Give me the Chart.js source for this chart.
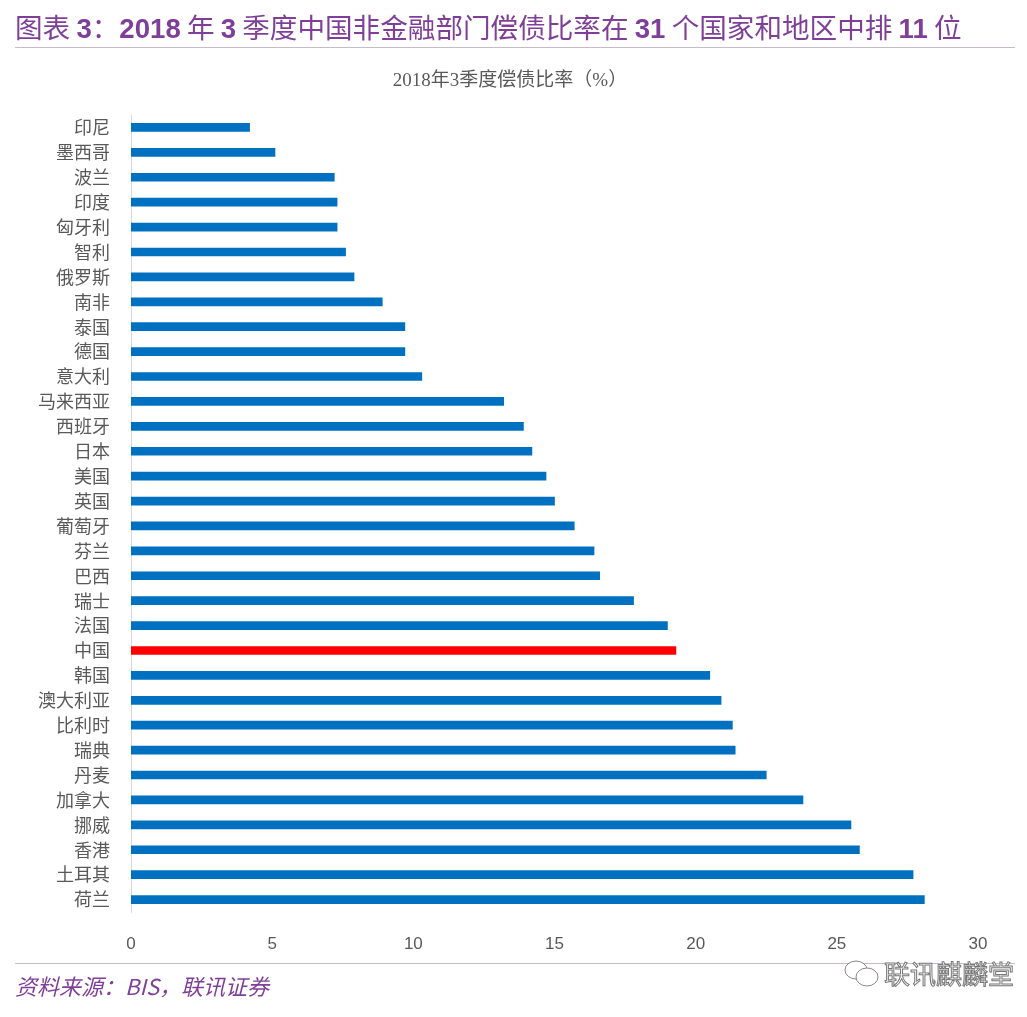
<!DOCTYPE html>
<html>
<head>
<meta charset="utf-8">
<script src="https://cdn.jsdelivr.net/npm/chart.js@4"></script>
<style>
  html, body { margin: 0; padding: 0; background: #fff; }
  #page { position: relative; width: 1027px; height: 1017px; overflow: hidden; font-family: "Noto Sans CJK SC", sans-serif; }
  #chart { position: absolute; left: 0; top: 0; }
  .rule { position: absolute; left: 15px; width: 1000px; height: 1px; background: #c4bcc8; }
  #head { position: absolute; left: 15px; top: 6px; font-size: 27.6px; line-height: 40px; color: #7f3f98; white-space: nowrap; }
  #head b { font-family: "Liberation Sans", sans-serif; font-weight: bold; }
  #source { position: absolute; left: 15px; top: 968px; font-size: 22px; line-height: 34px; color: #7f3f98; font-style: italic; white-space: nowrap; }
  #mark { position: absolute; left: 884px; top: 958px; font-size: 26px; line-height: 30px; color: #fff; white-space: nowrap; -webkit-text-stroke: 1px #777; }
  #icon { position: absolute; left: 840px; top: 956px; }
</style>
</head>
<body>
<div id="page">
  <canvas id="chart" width="1027" height="1017"></canvas>
  <div id="head">图表 <b>3</b>：<b>2018</b> 年 <b>3</b> 季度中国非金融部门偿债比率在 <b>31</b> 个国家和地区中排 <b>11</b> 位</div>
  <div class="rule" style="top:47px"></div>
  <div class="rule" style="top:963px"></div>
  <div id="source">资料来源：BIS，联讯证券</div>
  <svg id="icon" width="42" height="36" viewBox="0 0 42 36">
    <ellipse cx="16" cy="14" rx="11" ry="9" fill="#fff" stroke="#888"/>
    <ellipse cx="27" cy="21" rx="11" ry="9" fill="#fff" stroke="#888"/>
  </svg>
  <div id="mark">联讯麒麟堂</div>
</div>
<script>
const categories = ["印尼","墨西哥","波兰","印度","匈牙利","智利","俄罗斯","南非","泰国","德国","意大利","马来西亚","西班牙","日本","美国","英国","葡萄牙","芬兰","巴西","瑞士","法国","中国","韩国","澳大利亚","比利时","瑞典","丹麦","加拿大","挪威","香港","土耳其","荷兰"];
const ratios = [4.2,5.1,7.2,7.3,7.3,7.6,7.9,8.9,9.7,9.7,10.3,13.2,13.9,14.2,14.7,15.0,15.7,16.4,16.6,17.8,19.0,19.3,20.5,20.9,21.3,21.4,22.5,23.8,25.5,25.8,27.7,28.1];
const highlighted = "中国";
const xTicks = [0,5,10,15,20,25,30];

const blue = "#0070c0";
const red = "#ff0000";

new Chart(document.getElementById("chart"), {
  type: "bar",
  data: {
    labels: categories,
    datasets: [{
      data: ratios,
      backgroundColor: categories.map(c => c === highlighted ? red : blue),
      barThickness: 8,
      borderWidth: 0
    }]
  },
  options: {
    indexAxis: "y",
    responsive: false,
    animation: false,
    layout: { padding: { top: 115, right: 49, bottom: 0, left: 0 } },
    plugins: { legend: { display: false }, tooltip: { enabled: false } },
    scales: {
      x: {
        min: 0,
        max: 30,
        afterBuildTicks: axis => { axis.ticks = xTicks.map(value => ({ value })); },
        afterFit: axis => { axis.height = 105; },
        grid: { display: false },
        border: { display: false },
        ticks: { color: "#595959", font: { size: 17, family: "'Liberation Sans', sans-serif" }, maxRotation: 0, padding: 14 }
      },
      y: {
        afterFit: axis => { axis.width = 131; },
        grid: { display: false, drawTicks: false },
        border: { display: true, color: "#d9d9d9", width: 1 },
        ticks: { color: "#595959", autoSkip: false, font: { size: 18, family: "'Noto Sans CJK SC', sans-serif" }, padding: 21 }
      }
    }
  },
  plugins: [{
    id: "heading",
    afterDraw(chart) {
      const ctx = chart.ctx;
      ctx.save();
      ctx.fillStyle = "#595959";
      ctx.font = "19px 'Liberation Serif', 'Noto Sans CJK SC', serif";
      ctx.textAlign = "center";
      ctx.textBaseline = "middle";
      ctx.fillText("2018年3季度偿债比率（%）", 510, 81);
      ctx.restore();
    }
  }]
});
</script>
</body>
</html>
